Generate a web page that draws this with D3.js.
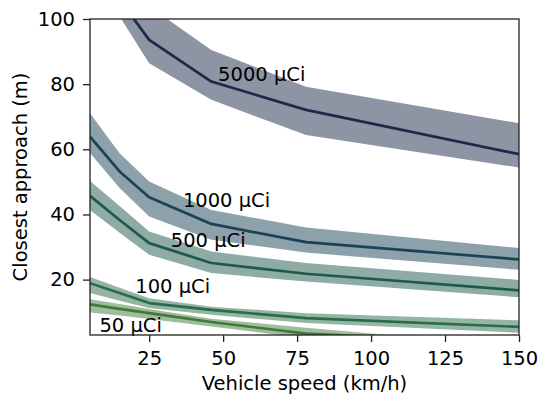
<!DOCTYPE html>
<html>
<head>
<meta charset="utf-8">
<script src="https://cdn.jsdelivr.net/npm/d3@7"></script>
<style>
  body { margin: 0; background: #fff; }
  text { font-family: "DejaVu Sans", sans-serif; }
</style>
</head>
<body>
<svg id="chart" width="539" height="397"></svg>
<script>
// Vehicle speeds (km/h) at which the closest approach was evaluated
const speeds = [5, 15, 25, 46, 78, 150];

// Source activities
const activities = ["50 μCi", "100 μCi", "500 μCi", "1000 μCi", "5000 μCi"];

// Closest approach (m): median with lower / upper band
const mid50 = [12.4, 11.0, 9.7, 7.0, 3.4, 0.5];
const low50 = [9.9, 9.0, 7.9, 5.6, 2.0, -2.0];
const high50 = [14.0, 12.5, 11.0, 8.0, 5.2, -0.5];

const mid100 = [18.9, 15.9, 12.8, 10.7, 8.2, 5.5];
const low100 = [15.9, 13.5, 11.3, 9.2, 6.7, 3.7];
const high100 = [20.8, 17.5, 14.3, 11.7, 9.7, 7.5];

const mid500 = [45.7, 38.3, 31.2, 25.1, 21.8, 16.7];
const low500 = [41.4, 34.4, 27.6, 22.0, 19.4, 14.6];
const high500 = [50.3, 42.6, 34.8, 28.6, 25.1, 19.9];

const mid1000 = [63.9, 53.2, 45.3, 37.1, 31.5, 26.2];
const low1000 = [58.9, 48.1, 39.4, 32.2, 28.3, 23.0];
const high1000 = [71.1, 58.8, 50.1, 41.4, 36.0, 29.7];

const mid5000 = [121.0, 106.0, 93.6, 80.8, 72.1, 58.5];
const low5000 = [114.0, 100.8, 86.4, 75.2, 64.4, 54.4];
const high5000 = [132.0, 114.0, 103.9, 90.5, 79.2, 68.0];

// Where each activity label sits, in data coordinates
const labelSpeed = [8.2, 20.3, 32.3, 36.4, 48.3];
const labelDist = [5.9, 18.1, 32.2, 44.3, 83.1];

const lineColors = ["#3f7a3b", "#2a6b4a", "#1d5a4c", "#1b4355", "#1b2a48"];

const xTicks = [25, 50, 75, 100, 125, 150];
const yTicks = [20, 40, 60, 80, 100];

const series = [
  { mid: mid50, low: low50, high: high50 },
  { mid: mid100, low: low100, high: high100 },
  { mid: mid500, low: low500, high: high500 },
  { mid: mid1000, low: low1000, high: high1000 },
  { mid: mid5000, low: low5000, high: high5000 }
].map((s, i) => ({
  name: activities[i],
  color: lineColors[i],
  points: speeds.map((v, j) => ({ x: v, m: s.mid[j], lo: s.low[j], hi: s.high[j] })),
  lx: labelSpeed[i],
  ly: labelDist[i]
}));

const W = 539, H = 397;
const margin = { left: 90, right: 20, top: 19, bottom: 62 };
const iw = W - margin.left - margin.right;
const ih = H - margin.top - margin.bottom;

const svg = d3.select("#chart");
const g = svg.append("g").attr("transform", `translate(${margin.left},${margin.top})`);

const x = d3.scaleLinear().domain([5, 150]).range([0, iw]);
const y = d3.scaleLinear().domain([3, 100]).range([ih, 0]);

g.append("clipPath").attr("id", "plot-clip")
  .append("rect").attr("width", iw).attr("height", ih);

const plot = g.append("g").attr("clip-path", "url(#plot-clip)");

const area = d3.area().x(d => x(d.x)).y0(d => y(d.lo)).y1(d => y(d.hi));
const line = d3.line().x(d => x(d.x)).y(d => y(d.m));

series.forEach(s => {
  plot.append("path").datum(s.points)
    .attr("d", area)
    .attr("fill", s.color)
    .attr("fill-opacity", 0.5)
    .attr("stroke", "none");
  plot.append("path").datum(s.points)
    .attr("d", line)
    .attr("fill", "none")
    .attr("stroke", s.color)
    .attr("stroke-width", 2.7)
    .attr("stroke-linejoin", "round");
});

// activity labels
g.selectAll("text.act").data(series).join("text")
  .attr("class", "act")
  .attr("x", d => x(d.lx))
  .attr("y", d => y(d.ly))
  .attr("dy", "0.35em")
  .attr("font-size", 19.5)
  .attr("fill", "#000")
  .text(d => d.name);

// axes
const axisColor = "#222";
const xAxis = g.append("g").attr("transform", `translate(0,${ih})`)
  .call(d3.axisBottom(x).tickValues(xTicks).tickSize(7).tickPadding(9).tickSizeOuter(0));
const yAxis = g.append("g")
  .call(d3.axisLeft(y).tickValues(yTicks).tickSize(7).tickPadding(8).tickSizeOuter(0));

[xAxis, yAxis].forEach(a => {
  a.select(".domain").remove();
  a.selectAll(".tick line").attr("stroke", axisColor).attr("stroke-width", 1.3);
  a.selectAll(".tick text").attr("font-size", 19.5).attr("fill", "#000")
    .attr("font-family", "DejaVu Sans, sans-serif");
});

// frame
g.append("rect")
  .attr("width", iw).attr("height", ih)
  .attr("fill", "none")
  .attr("stroke", axisColor)
  .attr("stroke-width", 1.3);

// axis titles
svg.append("text")
  .attr("x", margin.left + iw / 2)
  .attr("y", 390)
  .attr("text-anchor", "middle")
  .attr("font-size", 19.5)
  .text("Vehicle speed (km/h)");

svg.append("text")
  .attr("transform", `translate(26.5,${margin.top + ih / 2}) rotate(-90)`)
  .attr("text-anchor", "middle")
  .attr("font-size", 19.5)
  .text("Closest approach (m)");
</script>
</body>
</html>
